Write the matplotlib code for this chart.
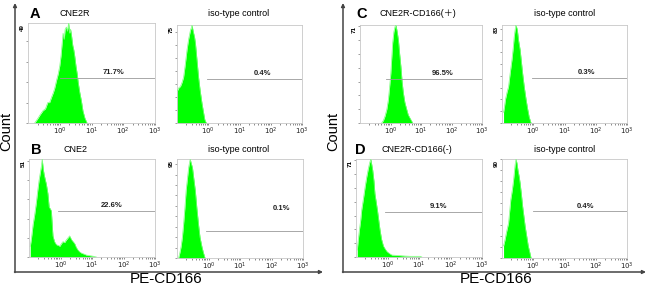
import matplotlib
matplotlib.use("Agg")
import matplotlib.pyplot as plt
import numpy as np

plt.rcParams['font.family'] = ['Liberation Sans', 'Noto Sans CJK SC', 'DejaVu Sans']

# ---------------- data (log10 PE-CD166 intensity, cell counts) ----------------
a_log = [-0.79, -0.7, -0.62, -0.53, -0.45, -0.38, -0.32, -0.25, -0.2, -0.16, -0.1, -0.05, 0.0, 0.04,
         0.08, 0.105, 0.14, 0.17, 0.21, 0.24, 0.28, 0.31, 0.34, 0.37, 0.41, 0.44, 0.47, 0.51, 0.55,
         0.58, 0.63, 0.68, 0.73, 0.79, 0.86]
a_cnt = [0, 2, 4, 6, 7, 10, 10, 13, 15, 17, 21, 24, 28, 33, 40, 44, 41, 46, 47, 45, 49, 44, 46, 43,
         38, 36, 33, 28, 24, 20, 15, 11, 6, 2.5, 0]

ai_log = [-1.0, -0.98, -0.94, -0.89, -0.84, -0.79, -0.74, -0.68, -0.63, -0.57, -0.54, -0.52, -0.48,
          -0.44, -0.41, -0.36, -0.31, -0.26, -0.2, -0.15, -0.11, -0.06]
ai_cnt = [25, 25, 27, 28, 31, 35, 44, 56, 64, 71, 73, 75, 70, 66, 61, 48, 35, 25, 15, 8, 2.5, 0]

b_log = [-0.96, -0.92, -0.87, -0.82, -0.77, -0.72, -0.68, -0.64, -0.61, -0.58, -0.55, -0.52, -0.48,
         -0.45, -0.4, -0.36, -0.32, -0.29, -0.26, -0.24, -0.19, -0.13, -0.07, -0.02, 0.03, 0.08, 0.13,
         0.19, 0.24, 0.29, 0.32, 0.35, 0.4, 0.45, 0.5, 0.56, 0.62, 0.67, 0.75, 0.82, 0.93, 1.04, 1.14]
b_cnt = [5.5, 10, 17, 22, 28, 35, 40, 44, 47, 51, 46, 43, 40, 38, 33, 26, 25, 24, 16, 11, 8, 6.4, 6,
         5.6, 7, 8, 7.5, 9, 10, 11, 10, 9, 8, 7, 5, 3.5, 2.5, 2, 1.5, 1, 0.7, 0.4, 0]

bi_log = [-0.95, -0.91, -0.87, -0.83, -0.79, -0.75, -0.71, -0.67, -0.63, -0.6, -0.58, -0.55, -0.51,
          -0.47, -0.42, -0.37, -0.32, -0.27, -0.21, -0.16, -0.11]
bi_cnt = [0, 5, 11, 20, 33, 48, 65, 76, 87, 92, 95, 91, 87, 77, 65, 48, 33, 20, 11, 5, 0]

c_log = [-0.29, -0.23, -0.18, -0.12, -0.07, -0.03, 0.01, 0.04, 0.07, 0.11, 0.15, 0.18, 0.22, 0.26,
         0.3, 0.34, 0.38, 0.42, 0.47, 0.53, 0.58, 0.64, 0.73]
c_cnt = [0, 2, 5, 10, 17, 26, 36, 47, 58, 66, 70, 71, 66, 60, 50, 41, 30, 22, 15, 10, 6, 3.5, 0]

ci_log = [-0.95, -0.92, -0.89, -0.84, -0.79, -0.74, -0.68, -0.64, -0.61, -0.58, -0.56, -0.53, -0.51,
          -0.47, -0.42, -0.38, -0.34, -0.29, -0.23, -0.18, -0.13, -0.07]
ci_cnt = [9, 14, 20, 26, 31, 42, 54, 64, 73, 79, 83, 81, 79, 70, 62, 52, 42, 31, 20, 12, 5, 0]

d_log = [-0.96, -0.93, -0.89, -0.85, -0.82, -0.76, -0.71, -0.66, -0.61, -0.57, -0.53, -0.5, -0.47,
         -0.43, -0.4, -0.36, -0.32, -0.28, -0.24, -0.19, -0.13, -0.08, -0.02, 0.06, 0.14, 0.27, 0.4,
         0.56, 0.72, 0.88, 1.04, 1.09]
d_cnt = [5, 12, 20, 27, 34, 43, 51, 58, 64, 68, 71, 67, 63, 55, 46, 40, 34, 27, 20, 13, 8, 6, 4, 2.5,
         1.4, 1.2, 1, 0.7, 0.5, 0.5, 0.5, 0]

di_log = [-0.95, -0.9, -0.86, -0.79, -0.72, -0.67, -0.63, -0.58, -0.55, -0.52, -0.49, -0.45, -0.42,
          -0.38, -0.34, -0.3, -0.26, -0.21, -0.16, -0.11, -0.07]
di_cnt = [11, 17, 23, 32, 53, 62, 71, 85, 90, 86, 80, 74, 68, 58, 47, 38, 29, 20, 11, 5, 0]

y_max = [49, 75, 51, 95, 71, 83, 71, 90]
pct_labels = ["71.7%", "0.4%", "22.6%", "0.1%", "96.5%", "0.3%", "9.1%", "0.4%"]
titles = ["CNE2R", "iso-type control", "CNE2", "iso-type control",
          "CNE2R-CD166(\uff0b)", "iso-type control", "CNE2R-CD166(-)", "iso-type control"]
letters = ["A", None, "B", None, "C", None, "D", None]
x_tick_labels = [r"$10^0$", r"$10^1$", r"$10^2$", r"$10^3$"]
x_label = "PE-CD166"
y_label = "Count"

series = [(a_log, a_cnt), (ai_log, ai_cnt), (b_log, b_cnt), (bi_log, bi_cnt),
          (c_log, c_cnt), (ci_log, ci_cnt), (d_log, d_cnt), (di_log, di_cnt)]

# ---------------- layout (pixel boxes: x0, x1, ytop, ybottom) ----------------
W, H = 650, 286
boxes = [(28, 155, 23, 123), (177, 302, 25, 123), (29, 155, 159, 257), (177, 303, 159, 258),
         (360, 482, 25, 123), (502, 627, 25, 123), (356, 482, 159, 257), (502, 627, 159, 258)]
# gate: start (log10), height fraction, label log position, label height fraction
gates = [(0.0, 0.45, 1.68, 0.45), (-0.04, 0.45, 1.72, 0.45), (-0.08, 0.47, 1.62, 0.47),
         (-0.07, 0.27, 2.32, 0.45), (-0.15, 0.45, 1.72, 0.45), (-0.05, 0.46, 1.70, 0.46),
         (-0.08, 0.46, 1.62, 0.46), (-0.02, 0.47, 1.68, 0.47)]
title_pos = [(75, 14), (239, 14), (75, 150), (239, 150), (418, 14), (565, 14), (417, 150), (565, 150)]
letter_pos = [(35, 14), None, (36, 150), None, (362, 14), None, (360, 150), None]

fig = plt.figure(figsize=(6.5, 2.86), dpi=100)
bg = fig.add_axes([0, 0, 1, 1])
bg.set_xlim(0, W)
bg.set_ylim(H, 0)
bg.axis('off')

green = '#00ff00'
frame_col = '#c8c8c8'
for i, (lg, cn) in enumerate(series):
    x0, x1, yt, yb = boxes[i]
    ax = fig.add_axes([x0 / W, 1 - yb / H, (x1 - x0) / W, (yb - yt) / H])
    xs = 10 ** np.array(lg)
    cn = np.array(cn, dtype=float)
    ax.fill_between(xs, 0, cn, color=green, lw=0, zorder=2)
    ax.plot(xs, cn, color='#7dff7d', lw=0.5, zorder=3)
    ax.set_xscale('log')
    ax.set_xlim(0.1, 1000)
    ax.set_ylim(0, y_max[i])
    for s in ax.spines.values():
        s.set_color(frame_col)
        s.set_linewidth(0.6)
    ax.set_xticks([1, 10, 100, 1000])
    ax.set_xticklabels(x_tick_labels, fontsize=5, color='#222222')
    ax.xaxis.set_minor_locator(matplotlib.ticker.LogLocator(base=10, subs=np.arange(2, 10)))
    ax.xaxis.set_minor_formatter(matplotlib.ticker.NullFormatter())
    ax.tick_params(axis='x', which='both', direction='out', length=1.5, width=0.6,
                   color='#777777', pad=0.8)
    ax.set_yticks(np.arange(0, y_max[i] + 0.1, 10))
    ax.set_yticklabels([])
    ax.tick_params(axis='y', direction='out', length=1.5, width=0.5, color='#777777')
    ax.text(-0.025, 0.99, str(y_max[i]), transform=ax.transAxes, rotation=90, ha='right',
            va='top', fontsize=4.5, fontweight='bold')
    g0, gf, lx, ly = gates[i]
    ax.plot([10 ** g0, 1000], [gf * y_max[i]] * 2, color='#9a9a9a', lw=0.6, zorder=4)
    ax.text(10 ** lx, ly * y_max[i] + 0.015 * y_max[i], pct_labels[i], ha='center',
            va='bottom', fontsize=5.5, fontweight='bold', color='#222222', zorder=5)
    tx, ty = title_pos[i]
    bg.text(tx, ty, titles[i], ha='center', va='center', fontsize=6.5,
            family=['Liberation Sans', 'Noto Sans CJK SC'])
    if letters[i]:
        lxp, lyp = letter_pos[i]
        bg.text(lxp, lyp, letters[i], ha='center', va='center', fontsize=10.5,
                fontweight='bold')

# big axes arrows
arrow_col = '#444444'
for (vx, hx1) in [(15, 323), (343, 646)]:
    bg.annotate('', xy=(vx, 3), xytext=(vx, 272.5),
                arrowprops=dict(arrowstyle='-|>', color=arrow_col, lw=1.1,
                                mutation_scale=5, shrinkA=0, shrinkB=0))
    bg.annotate('', xy=(hx1, 272), xytext=(vx - 0.5, 272),
                arrowprops=dict(arrowstyle='-|>', color=arrow_col, lw=1.1,
                                mutation_scale=5, shrinkA=0, shrinkB=0))

bg.text(6, 131, y_label, rotation=90, ha='center', va='center', fontsize=10.5)
bg.text(333, 131, y_label, rotation=90, ha='center', va='center', fontsize=10.5)
bg.text(166, 279, x_label, ha='center', va='center', fontsize=11)
bg.text(496, 279, x_label, ha='center', va='center', fontsize=11)

fig.savefig('out.png', dpi=100)
